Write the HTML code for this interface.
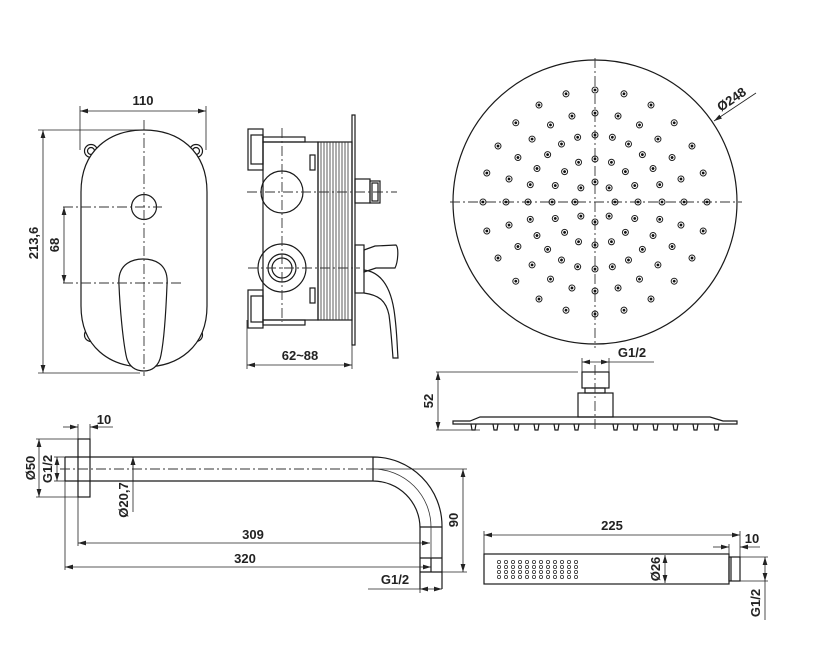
<!DOCTYPE html>
<html><head><meta charset="utf-8"><style>
html,body{margin:0;padding:0;background:#fff}
svg{display:block}
text{font-family:"Liberation Sans",sans-serif;font-size:13px;font-weight:bold;fill:#222}
.l{stroke:#1a1a1a;stroke-width:1.2;fill:none}
.t{stroke:#333;stroke-width:.8;fill:none}
.c{stroke:#333;stroke-width:.9;fill:none;stroke-dasharray:10 3 2 3}
.d{stroke:#222;stroke-width:.8;fill:none}
</style></head><body>
<svg width="817" height="649" viewBox="0 0 817 649" xmlns="http://www.w3.org/2000/svg">
<defs>
<marker id="a" viewBox="0 0 10 6" refX="10" refY="3" markerWidth="8" markerHeight="5" orient="auto-start-reverse" markerUnits="userSpaceOnUse"><path d="M0,0L10,3L0,6z" fill="#222"/></marker>
<g id="dot"><circle r="3" fill="none" stroke="#222" stroke-width="1"/><circle r="1.4" fill="#111"/></g>
<g id="r3"><use href="#dot" x="67"/><use href="#dot" x="89"/><use href="#dot" x="112"/></g>
<g id="q3"><use href="#r3"/><use href="#r3" transform="rotate(15)"/><use href="#r3" transform="rotate(30)"/><use href="#r3" transform="rotate(45)"/><use href="#r3" transform="rotate(60)"/><use href="#r3" transform="rotate(75)"/>
<use href="#dot" x="43"/><use href="#dot" x="43" transform="rotate(22.5)"/><use href="#dot" x="43" transform="rotate(45)"/><use href="#dot" x="43" transform="rotate(67.5)"/>
<use href="#dot" x="20"/><use href="#dot" x="20" transform="rotate(45)"/></g>
</defs>

<!-- ===== Front view of mixer ===== -->
<g class="l">
<circle cx="91" cy="151" r="6.5"/><circle cx="91" cy="151" r="3.5"/>
<circle cx="196" cy="151" r="6.5"/><circle cx="196" cy="151" r="3.5"/>
<circle cx="91" cy="335" r="6.5"/><circle cx="91" cy="335" r="3.5"/>
<circle cx="196" cy="335" r="6.5"/><circle cx="196" cy="335" r="3.5"/>
</g>
<path fill="#fff" stroke="#1a1a1a" stroke-width="1.2" d="M81,192 C81,150 110,130 144,130 C178,130 207,150 207,192 V306 C207,347 178,367 144,367 C110,367 81,347 81,306Z"/>
<circle cx="144" cy="207" r="12.5" fill="#fff" stroke="#1a1a1a" stroke-width="1.2"/>
<path fill="#fff" stroke="#1a1a1a" stroke-width="1.2" d="M119,285 C117,262 135,259 143,259 C152,259 169,262 167,285 C166,310 164,340 161,355 C159,367 151,371 144,371 C136,371 128,367 126,355 C123,340 120,310 119,285Z"/>
<line class="c" x1="144" y1="120" x2="144" y2="376"/>
<line class="c" x1="63" y1="207" x2="162" y2="207"/>
<line class="c" x1="63" y1="283" x2="184" y2="283"/>
<line class="d" x1="80" y1="106" x2="80" y2="150"/>
<line class="d" x1="206" y1="106" x2="206" y2="150"/>
<line class="d" x1="80" y1="111" x2="206" y2="111" marker-start="url(#a)" marker-end="url(#a)"/>
<text x="143" y="105" text-anchor="middle">110</text>
<line class="d" x1="38" y1="130" x2="144" y2="130"/>
<line class="d" x1="38" y1="373" x2="140" y2="373"/>
<line class="d" x1="43" y1="130" x2="43" y2="373" marker-start="url(#a)" marker-end="url(#a)"/>
<text transform="translate(38,243) rotate(-90)" text-anchor="middle">213,6</text>
<line class="d" x1="64" y1="207" x2="64" y2="283" marker-start="url(#a)" marker-end="url(#a)"/>
<text transform="translate(59,245) rotate(-90)" text-anchor="middle">68</text>

<!-- ===== Side view of mixer ===== -->
<rect class="l" x="352" y="115" width="3" height="230"/>
<rect class="l" x="263" y="142" width="55" height="178"/>
<rect class="l" x="318" y="142" width="34" height="178"/>
<g class="t">
<path d="M321,142V320M324,142V320M327,142V320M330,142V320M333,142V320M336,142V320M339,142V320M342,142V320M345,142V320M348,142V320"/>
</g>
<rect class="l" x="248" y="129" width="15" height="41"/>
<rect class="l" x="251" y="135" width="12" height="29"/>
<rect class="l" x="263" y="137" width="42" height="5"/>
<rect class="l" x="248" y="290" width="15" height="38"/>
<rect class="l" x="251" y="296" width="12" height="26"/>
<rect class="l" x="263" y="320" width="42" height="5"/>
<rect class="l" x="310" y="155" width="5" height="15"/>
<rect class="l" x="310" y="288" width="5" height="15"/>
<circle class="l" cx="282" cy="192" r="21"/>
<circle class="l" cx="282" cy="268" r="24"/>
<circle class="l" cx="282" cy="268" r="14"/>
<circle class="l" cx="282" cy="268" r="10"/>
<rect class="l" x="355" y="179" width="15" height="24"/>
<rect class="l" x="370" y="181" width="10" height="22"/>
<rect class="l" x="372" y="183" width="6" height="18"/>
<rect class="l" x="355" y="245" width="9" height="48"/>
<path class="l" d="M364,250 L375,246 L396,245 C399,248 398,262 395,268 L376,268 L364,272Z"/>
<path class="l" d="M364,270 C380,272 390,285 394,310 C397,330 397,345 398,358 L393,358 C392,345 391,330 389,315 C386,300 378,295 364,293"/>
<line class="c" x1="247" y1="192" x2="397" y2="192"/>
<line class="c" x1="248" y1="268" x2="360" y2="268"/>
<line class="c" x1="282" y1="128" x2="282" y2="322"/>
<line class="d" x1="247" y1="320" x2="247" y2="369"/>
<line class="d" x1="352" y1="345" x2="352" y2="369"/>
<line class="d" x1="247" y1="365" x2="352" y2="365" marker-start="url(#a)" marker-end="url(#a)"/>
<text x="300" y="360" text-anchor="middle">62~88</text>

<!-- ===== Shower head top view ===== -->
<circle class="l" cx="595" cy="202" r="142"/>
<line class="c" x1="450" y1="202" x2="742" y2="202"/>
<line class="c" x1="595" y1="58" x2="595" y2="348"/>
<g transform="translate(595,202)">
<use href="#q3"/><use href="#q3" transform="rotate(90)"/><use href="#q3" transform="rotate(180)"/><use href="#q3" transform="rotate(270)"/>
</g>
<line class="d" x1="756" y1="93" x2="714" y2="121" marker-end="url(#a)"/>
<text transform="translate(734,103) rotate(-34)" text-anchor="middle">Ø248</text>

<!-- ===== Shower head side view ===== -->
<path class="l" d="M453,421 L470,421 L480,417 L710,417 L723,421 L737,421 L737,424 L453,424Z"/>
<g class="l">
<path d="M471,424l1,6h3l1,-6M493,424l1,6h3l1,-6M514,424l1,6h3l1,-6M534,424l1,6h3l1,-6M554,424l1,6h3l1,-6M574,424l1,6h3l1,-6M613,424l1,6h3l1,-6M633,424l1,6h3l1,-6M653,424l1,6h3l1,-6M673,424l1,6h3l1,-6M693,424l1,6h3l1,-6M714,424l1,6h3l1,-6"/>
</g>
<rect class="l" x="578" y="393" width="35" height="24"/>
<rect class="l" x="585" y="388" width="20" height="5"/>
<rect class="l" x="582" y="372" width="27" height="16"/>
<line class="c" x1="595" y1="365" x2="595" y2="432"/>
<line class="d" x1="582" y1="358" x2="582" y2="372"/>
<line class="d" x1="609" y1="358" x2="609" y2="372"/>
<line class="d" x1="582" y1="362" x2="609" y2="362" marker-start="url(#a)" marker-end="url(#a)"/>
<line class="d" x1="609" y1="362" x2="654" y2="362"/>
<text x="632" y="357" text-anchor="middle">G1/2</text>
<line class="d" x1="436" y1="372" x2="578" y2="372"/>
<line class="d" x1="436" y1="430" x2="480" y2="430"/>
<line class="d" x1="438" y1="372" x2="438" y2="430" marker-start="url(#a)" marker-end="url(#a)"/>
<text transform="translate(433,401) rotate(-90)" text-anchor="middle">52</text>

<!-- ===== Shower arm ===== -->
<rect class="l" x="78" y="439" width="12" height="58"/>
<path class="l" d="M65,457 H373 A69,69 0 0 1 442,526 V589 M65,481 H373 A47,47 0 0 1 420,528 V589 M65,457 V481 M373,457 V481"/>
<path class="l" d="M420,527 H442 M420,558 H442 M420,572 H442 M431,558 V572"/>
<path class="t" d="M373,469 A58,58 0 0 1 431,527 V558"/>
<line class="c" x1="60" y1="469" x2="373" y2="469"/>
<line class="d" x1="373" y1="469" x2="467" y2="469"/>
<line class="d" x1="442" y1="572" x2="467" y2="572"/>
<line class="d" x1="463" y1="469" x2="463" y2="572" marker-start="url(#a)" marker-end="url(#a)"/>
<text transform="translate(458,520) rotate(-90)" text-anchor="middle">90</text>
<line class="d" x1="78" y1="497" x2="78" y2="546"/>
<line class="d" x1="65" y1="481" x2="65" y2="570"/>
<line class="d" x1="78" y1="543" x2="430" y2="543" marker-start="url(#a)" marker-end="url(#a)"/>
<text x="253" y="539" text-anchor="middle">309</text>
<line class="d" x1="65" y1="567" x2="431" y2="567" marker-start="url(#a)" marker-end="url(#a)"/>
<text x="245" y="563" text-anchor="middle">320</text>
<line class="d" x1="420" y1="589" x2="420" y2="593"/>
<line class="d" x1="368" y1="589" x2="420" y2="589"/>
<line class="d" x1="420" y1="589" x2="442" y2="589" marker-start="url(#a)" marker-end="url(#a)"/>
<text x="395" y="584" text-anchor="middle">G1/2</text>
<line class="d" x1="133" y1="457" x2="133" y2="512" marker-start="url(#a)"/>
<line class="d" x1="133" y1="481" x2="133" y2="457" marker-end="url(#a)"/>
<text transform="translate(128,500) rotate(-90)" text-anchor="middle">Ø20,7</text>
<line class="d" x1="36" y1="439" x2="78" y2="439"/>
<line class="d" x1="36" y1="497" x2="78" y2="497"/>
<line class="d" x1="39" y1="439" x2="39" y2="497" marker-start="url(#a)" marker-end="url(#a)"/>
<text transform="translate(35,468) rotate(-90)" text-anchor="middle">Ø50</text>
<line class="d" x1="54" y1="457" x2="65" y2="457"/>
<line class="d" x1="54" y1="481" x2="65" y2="481"/>
<line class="d" x1="57" y1="457" x2="57" y2="481" marker-start="url(#a)" marker-end="url(#a)"/>
<text transform="translate(52,469) rotate(-90)" text-anchor="middle">G1/2</text>
<line class="d" x1="78" y1="424" x2="78" y2="439"/>
<line class="d" x1="90" y1="424" x2="90" y2="439"/>
<line class="d" x1="63" y1="427" x2="78" y2="427" marker-end="url(#a)"/>
<line class="d" x1="113" y1="427" x2="90" y2="427" marker-end="url(#a)"/>
<text x="104" y="424" text-anchor="middle">10</text>

<!-- ===== Hand shower ===== -->
<rect class="l" x="484" y="554" width="245" height="30"/>
<rect class="l" x="729" y="557" width="11" height="24"/>
<line class="l" x1="731" y1="557" x2="731" y2="581"/>
<g fill="none" stroke="#333" stroke-width=".8">
<g id="col"><circle cx="499" cy="562" r="1.6"/><circle cx="499" cy="567" r="1.6"/><circle cx="499" cy="572" r="1.6"/><circle cx="499" cy="577" r="1.6"/></g>
<use href="#col" x="7"/><use href="#col" x="14"/><use href="#col" x="21"/><use href="#col" x="28"/><use href="#col" x="35"/><use href="#col" x="42"/><use href="#col" x="49"/><use href="#col" x="56"/><use href="#col" x="63"/><use href="#col" x="70"/><use href="#col" x="77"/>
</g>
<line class="d" x1="484" y1="531" x2="484" y2="554"/>
<line class="d" x1="740" y1="531" x2="740" y2="557"/>
<line class="d" x1="484" y1="535" x2="740" y2="535" marker-start="url(#a)" marker-end="url(#a)"/>
<text x="612" y="530" text-anchor="middle">225</text>
<line class="d" x1="729" y1="544" x2="729" y2="557"/>
<line class="d" x1="713" y1="547" x2="729" y2="547" marker-end="url(#a)"/>
<line class="d" x1="760" y1="547" x2="740" y2="547" marker-end="url(#a)"/>
<text x="752" y="543" text-anchor="middle">10</text>
<line class="d" x1="665" y1="555" x2="665" y2="583" marker-start="url(#a)" marker-end="url(#a)"/>
<text transform="translate(660,569) rotate(-90)" text-anchor="middle">Ø26</text>
<line class="d" x1="740" y1="557" x2="768" y2="557"/>
<line class="d" x1="740" y1="581" x2="768" y2="581"/>
<line class="d" x1="765" y1="557" x2="765" y2="581" marker-start="url(#a)" marker-end="url(#a)"/>
<line class="d" x1="765" y1="581" x2="765" y2="620"/>
<text transform="translate(760,603) rotate(-90)" text-anchor="middle">G1/2</text>
</svg>
</body></html>
